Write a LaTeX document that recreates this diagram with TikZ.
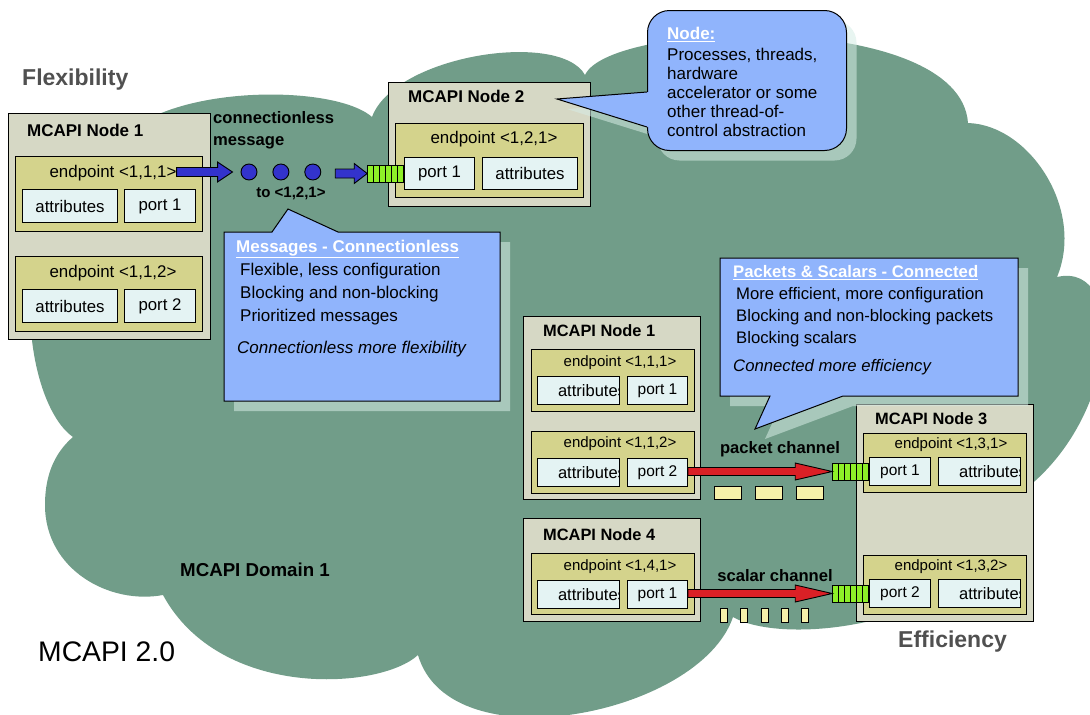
\documentclass[tikz,border=0pt]{standalone}
\usepackage{fontspec}
\setmainfont{Liberation Sans}
\usepackage{tikz}
\usetikzlibrary{positioning}
\usetikzlibrary{calc}

\definecolor{cloudgreen}{RGB}{113,157,137}
\definecolor{boxgrey}{RGB}{214,216,197}
\definecolor{epkhaki}{RGB}{212,211,140}
\definecolor{portcyan}{RGB}{228,243,243}
\definecolor{callblue}{RGB}{144,180,252}
\definecolor{shadowtint}{RGB}{214,236,229}
\definecolor{stubgreen}{RGB}{142,240,40}
\definecolor{msgblue}{RGB}{51,51,204}
\definecolor{chanred}{RGB}{218,32,38}
\definecolor{tokenyellow}{RGB}{246,241,170}
\definecolor{labelgrey}{RGB}{80,80,80}

% block arrow: fill colour, from, to, head length, head half width, shaft half width
\newcommand{\blockarrow}[6]{%
  \coordinate (bas) at (#2 |- #3);
  \coordinate (bat) at (#3);
  \draw[line width=0.9pt, fill=#1, line join=miter]
    ($(bas)+(0,-#6)$) -- ($(bat)+(-#4,-#6)$) -- ($(bat)+(-#4,-#5)$) -- (bat)
    -- ($(bat)+(-#4,#5)$) -- ($(bat)+(-#4,#6)$) -- ($(bas)+(0,#6)$) -- cycle;}

\newcommand{\callhead}[1]{\textcolor{white}{\underline{\bfseries #1}}}

\tikzset{
  wh/.style 2 args={minimum width=#1pt, minimum height=#2pt},
  nodebox/.style={draw, line width=1pt, fill=boxgrey, inner sep=0pt, anchor=north west},
  epbox/.style={draw, line width=1pt, fill=epkhaki, inner sep=0pt, anchor=north west},
  portbox/.style={draw, line width=1pt, fill=portcyan, inner sep=0pt, anchor=north west},
  bigtxt/.style={font=\fontsize{16.8}{19}\selectfont},
  smtxt/.style={font=\fontsize{15.5}{18}\selectfont},
  cutattr/.style={portbox, path picture={
      \node[anchor=west, inner sep=0pt, font=\fontsize{16.5}{18}\selectfont]
        at ([xshift=13pt]path picture bounding box.west) {attributes};}},
  ttl/.style={inner sep=0pt, anchor=west, font=\bfseries\fontsize{17}{20}\selectfont},
  ttlsm/.style={inner sep=0pt, anchor=west, font=\bfseries\fontsize{16.4}{19}\selectfont},
  eplbl/.style={inner sep=0pt, font=\fontsize{16.9}{19}\selectfont},
  eplblsm/.style={inner sep=0pt, font=\fontsize{15}{17}\selectfont},
  chanlbl/.style={inner sep=0pt, font=\bfseries\fontsize{16.6}{22}\selectfont},
  sidelbl/.style={inner sep=0pt, anchor=west, text=labelgrey, font=\bfseries\fontsize{23}{26}\selectfont},
  msgdot/.style={circle, draw, line width=0.9pt, fill=msgblue, minimum size=16pt, inner sep=0pt},
  stub/.style={draw, line width=0.8pt, fill=stubgreen, minimum width=36pt, minimum height=17pt, inner sep=0pt,
    path picture={\foreach \k in {1,...,5}
      \draw[line width=0.8pt] ($(path picture bounding box.north west)!\k/6!(path picture bounding box.north east)$)
        -- ($(path picture bounding box.south west)!\k/6!(path picture bounding box.south east)$);}},
  packet/.style={draw, line width=0.8pt, fill=tokenyellow, minimum width=27pt, minimum height=13pt, inner sep=0pt},
  scalar/.style={draw, line width=0.8pt, fill=tokenyellow, minimum width=7pt, minimum height=14pt, inner sep=0pt},
  callshade/.style={preaction={fill=shadowtint, fill opacity=.55, draw=none, transform canvas={shift={(10pt,-10pt)}}}},
  callpoly/.style={draw, line width=1pt, fill=callblue, line join=miter, callshade},
  calltxt/.style={inner sep=0pt, anchor=north west, align=left}
}

\begin{document}
\begin{tikzpicture}[x=1pt, y=-1pt]

	% Proper size --- Bounding box
	\useasboundingbox (0,0) rectangle (1090,715);

	% Domain cloud
	\begin{scope}
	\clip (0,0) rectangle (1090,715);
	\fill[cloudgreen] (110,160) .. controls (130,85) and (330,80) .. (372,117)
		.. controls (395,55) and (560,30) .. (585,75)
		.. controls (610,20) and (960,10) .. (968,123)
		.. controls (1030,125) and (1085,210) .. (1057,277)
		.. controls (1130,260) and (1120,430) .. (1010,500)
		.. controls (1000,620) and (790,650) .. (733,617)
		.. controls (700,715) and (450,765) .. (418,655)
		.. controls (380,690) and (220,700) .. (163,595)
		.. controls (110,605) and (45,570) .. (45,505)
		.. controls (45,470) and (58,450) .. (73,437)
		.. controls (20,400) and (0,200) .. (110,160) -- cycle;
	\end{scope}

	\node[sidelbl] (flex) at (22,80) {Flexibility};
	\node[sidelbl] (eff) at (898,642) {Efficiency};
	\node[inner sep=0pt, anchor=west, font=\fontsize{28.3}{32}\selectfont] (ver) at (38,652) {MCAPI 2.0};
	\node[inner sep=0pt, font=\bfseries\fontsize{18.7}{21}\selectfont] (dom) at (255,570) {MCAPI Domain 1};

	% ------------------------------------------------
	% CONNECTIONLESS SIDE
	% ------------------------------------------------
	\node[nodebox, wh={202}{226}] (n1) at (8,113) {};
	\node[ttl] (n1t) at (27,130) {MCAPI Node 1};
	\node[epbox, wh={187}{75}] (e111) at (15,156) {};
	\node[eplbl] (e111l) at (113,173) {endpoint <1,1,1>};
	\node[portbox, bigtxt, wh={95}{33}] (a111) at (22,189) {attributes};
	\node[portbox, bigtxt, wh={71}{33}, right=6pt of a111] (p111) {port 1};
	\node[epbox, wh={187}{75}] (e112) at (15,256) {};
	\node[eplbl] (e112l) at (113,273) {endpoint <1,1,2>};
	\node[portbox, bigtxt, wh={95}{33}] (a112) at (22,289) {attributes};
	\node[portbox, bigtxt, wh={71}{33}, right=6pt of a112] (p112) {port 2};

	\node[chanlbl, anchor=west, align=left] (cmsg) at (213,130) {connectionless\\message};
	\node[msgdot] (d1) at (249,172) {};
	\node[msgdot, right=15pt of d1] (d2) {};
	\node[msgdot, right=15pt of d2] (d3) {};
	\node[inner sep=0pt, font=\bfseries\fontsize{15}{17}\selectfont] (dest) at (291,193) {to <1,2,1>};

	\node[nodebox, wh={202}{124}] (n2) at (388,82) {};
	\node[ttl] (n2t) at (408,96) {MCAPI Node 2};
	\node[epbox, wh={188}{74}] (e121) at (395,123) {};
	\node[eplbl] (e121l) at (494,139) {endpoint <1,2,1>};
	\node[portbox, bigtxt, wh={70}{32}] (p121) at (404,157) {port 1};
	\node[portbox, bigtxt, wh={95}{32}, right=7pt of p121] (a121) {attributes};
	\node[stub, left=0pt of p121] (s121) {};

	\coordinate (m1tip) at ($(d1.west)+(-8,0)$);
	\blockarrow{msgblue}{e111l.east}{m1tip}{15}{10}{4.5}
	\coordinate (m2s) at ($(d3.east)+(14,0)$);
	\blockarrow{msgblue}{m2s}{s121.west}{13}{10}{4.5}

	% ------------------------------------------------
	% CONNECTED SIDE
	% ------------------------------------------------
	\node[nodebox, wh={177}{183}] (rn1) at (523,316) {};
	\node[ttlsm] (rn1t) at (543,331) {MCAPI Node 1};
	\node[epbox, wh={163}{62}] (re111) at (531,349) {};
	\node[eplblsm] (re111l) at (620,363) {endpoint <1,1,1>};
	\node[cutattr, wh={82}{28}] (ra111) at (537,376) {};
	\node[portbox, smtxt, wh={60}{28}, right=7pt of ra111] (rp111) {port 1};
	\node[epbox, wh={163}{62}] (re112) at (531,431) {};
	\node[eplblsm] (re112l) at (620,444) {endpoint <1,1,2>};
	\node[cutattr, wh={82}{28}] (ra112) at (537,458) {};
	\node[portbox, smtxt, wh={60}{28}, right=7pt of ra112] (rp112) {port 2};

	\node[nodebox, wh={177}{103}] (rn4) at (523,518) {};
	\node[ttlsm] (rn4t) at (543,535) {MCAPI Node 4};
	\node[epbox, wh={163}{61}] (re141) at (531,553) {};
	\node[eplblsm] (re141l) at (620,567) {endpoint <1,4,1>};
	\node[cutattr, wh={82}{28}] (ra141) at (537,580) {};
	\node[portbox, smtxt, wh={60}{28}, right=7pt of ra141] (rp141) {port 1};

	\node[nodebox, wh={177}{217}] (rn3) at (856,404) {};
	\node[ttlsm] (rn3t) at (875,419) {MCAPI Node 3};
	\node[epbox, wh={163}{59}] (re131) at (863,433) {};
	\node[eplblsm] (re131l) at (951,445) {endpoint <1,3,1>};
	\node[portbox, smtxt, wh={61}{28}] (rp131) at (869,457) {port 1};
	\node[cutattr, wh={82}{28}, right=7pt of rp131] (ra131) {};
	\node[epbox, wh={163}{59}] (re132) at (863,555) {};
	\node[eplblsm] (re132l) at (951,567) {endpoint <1,3,2>};
	\node[portbox, smtxt, wh={61}{28}] (rp132) at (869,579) {port 2};
	\node[cutattr, wh={82}{28}, right=7pt of rp132] (ra132) {};
	\node[stub, left=0pt of rp131] (s131) {};
	\node[stub, left=0pt of rp132] (s132) {};

	\blockarrow{chanred}{rp112.east}{s131.west}{37}{8.5}{4}
	\blockarrow{chanred}{rp141.east}{s132.west}{37}{8.5}{4}
	\node[chanlbl] (pch) at (780,449) {packet channel};
	\node[chanlbl] (sch) at (775,576) {scalar channel};
	\foreach \i in {0,1,2}
		\node[packet] (pk\i) at (727.5+41*\i,492.5) {};
	\foreach \i in {0,...,4}
		\node[scalar] (sc\i) at (724+20.25*\i,615) {};

	% ------------------------------------------------
	% CALLOUTS
	% ------------------------------------------------
	\path[callshade] (557,99) -- (647,92) -- (647,127) -- cycle;
	\node[callpoly, rounded corners=22pt, anchor=north west, inner sep=0pt, wh={199}{140}] (ncall) at (647,10) {};
	\fill[callblue] (557,99) -- (647,92) -- (649,92) -- (649,127) -- (647,127) -- cycle;
	\draw[line width=1pt, line join=miter] (647,92) -- (557,99) -- (647,127);
	\node[calltxt, font=\fontsize{17}{19}\selectfont] (ncallt) at (667,27)
		{\callhead{Node:}\\[2pt]Processes, threads,\\hardware\\accelerator or some\\other thread-of-\\control abstraction};

	\draw[callpoly] (224,232) -- (272,232) -- (288,209) -- (338,232) -- (500,232) -- (500,401) -- (224,401) -- cycle;
	\node[calltxt, font=\fontsize{17}{23}\selectfont] (mcallt) at (236,240)
		{\callhead{Messages - Connectionless}\\\hspace*{4pt}Flexible, less configuration\\\hspace*{4pt}Blocking and non-blocking\\\hspace*{4pt}Prioritized messages\\[9pt]\hspace*{1pt}\itshape Connectionless more flexibility};

	\draw[callpoly] (720,258) -- (1018,258) -- (1018,396) -- (843,396) -- (755,429) -- (770,396) -- (720,396) -- cycle;
	\node[calltxt, font=\fontsize{16.7}{22}\selectfont] (pcallt) at (733,265)
		{\callhead{Packets \& Scalars - Connected}\\\hspace*{3pt}More efficient, more configuration\\\hspace*{3pt}Blocking and non-blocking packets\\\hspace*{3pt}Blocking scalars\\[6pt]\itshape Connected more efficiency};

\end{tikzpicture}
\end{document}
